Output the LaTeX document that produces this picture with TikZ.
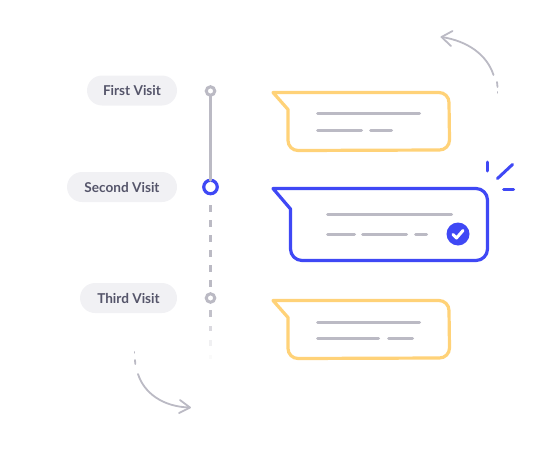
\documentclass[tikz,border=0pt]{standalone}
\usepackage{fontspec}
\setmainfont{Lato}[BoldFont={* Bold}]
\definecolor{gr}{HTML}{BBBAC4}
\definecolor{bl}{HTML}{3F48F5}
\definecolor{ye}{HTML}{FFD278}
\definecolor{pill}{HTML}{F1F1F4}
\definecolor{tx}{HTML}{55556A}
\tikzset{
  pillbox/.style={fill=pill,rounded corners=15pt,minimum height=30pt,inner sep=0pt,outer sep=0pt,text=tx,font=\fontsize{13.6}{15}\selectfont\bfseries,anchor=east},
  stroke/.style={draw=gr,line width=3pt,line cap=round},
  tick/.style={draw=gr,line width=3pt},
  bub/.style={line width=3.2pt,line join=round,fill=white},
  dot/.style={circle,draw=gr,line width=3pt,fill=white,inner sep=0pt,outer sep=0pt,minimum size=8.5pt},
  arc/.style={draw=gr,line width=1.8pt,line cap=round,line join=round}
}
\begin{document}
\begin{tikzpicture}[x=1pt,y=-1pt]
\useasboundingbox (0,0) rectangle (540,452);
\node[pillbox,minimum width=90pt] (p1) at (177,90.5) {\raisebox{-0.8pt}{First Visit}};
\node[pillbox,minimum width=110pt] (p2) at (177,187) {\raisebox{-0.8pt}{Second Visit}};
\node[pillbox,minimum width=97pt] (p3) at (177,298) {\raisebox{-0.8pt}{Third Visit}};
\node[dot] (d1) at (210.5,91) {};
\node[dot,draw=bl,line width=3.2pt,minimum size=13.5pt] (d2) at (210.5,187) {};
\node[dot] (d3) at (210.5,298) {};
\draw[stroke] (d1) -- (d2);
\foreach \a/\b/\o in {205/212/1,220/227/1,235/242/1,250/257/1,265/272/1,280/287/1,310/317/0.9,326/331/0.55,340/346/0.22,355/359/0.08}
  \draw[tick,opacity=\o] (210.5,\a) -- (210.5,\b);
% bubble 1
\draw[bub,draw=ye] (273,92.5) -- (439,92.5) arc[start angle=-90,end angle=0,radius=10] -- (449.5,140) arc[start angle=0,end angle=90,radius=10] -- (298,150.5) arc[start angle=90,end angle=180,radius=10] -- (288,109.5) -- cycle;
\draw[stroke] (317.5,113.5) -- (419.5,113.5);
\draw[stroke] (317.5,130) -- (361.5,130);
\draw[stroke] (370.5,130) -- (391.5,130);
% bubble 2
\draw[bub,draw=bl] (273,188.5) -- (476,188.5) arc[start angle=-90,end angle=0,radius=11.5] -- (487.5,249) arc[start angle=0,end angle=90,radius=11.5] -- (302,260.5) arc[start angle=90,end angle=180,radius=11.5] -- (290.5,209) -- cycle;
\draw[stroke] (327.5,214) -- (451.5,214);
\draw[stroke] (327.5,234) -- (354.5,234);
\draw[stroke] (362.5,234) -- (406.5,234);
\draw[stroke] (415.5,234) -- (426.5,234);
\node[circle,fill=bl,minimum size=23pt,inner sep=0pt,outer sep=0pt] (ck) at (458,234) {};
\draw[white,line width=3pt,line cap=round,line join=round] ([shift={(-5,0.5)}]ck.center) -- ([shift={(-1.5,4)}]ck.center) -- ([shift={(5,-3.5)}]ck.center);
\draw[bl,line width=3pt,line cap=round] (487.5,162) -- (487.5,171);
\draw[bl,line width=3pt,line cap=round] (497.5,178.5) -- (512.5,164.5);
\draw[bl,line width=3pt,line cap=round] (503.5,189) -- (513.5,189);
% bubble 3
\draw[bub,draw=ye] (273,300.5) -- (439,300.5) arc[start angle=-90,end angle=0,radius=10] -- (449.5,348) arc[start angle=0,end angle=90,radius=10] -- (298,358.5) arc[start angle=90,end angle=180,radius=10] -- (288,317.5) -- cycle;
\draw[stroke] (317.5,322) -- (419.5,322);
\draw[stroke] (317.5,338) -- (378.5,338);
\draw[stroke] (388.5,338) -- (412.5,338);
% top arrow
\coordinate (a1) at (493.5,75);
\coordinate (a2) at (441.5,37);
\draw[arc] (a1) .. controls (487,55) and (468,41) .. (a2);
\draw[arc] (452.5,31) -- (a2) -- (451,46);
\draw[arc] (497,82) -- (497.5,87);
\draw[arc] (497.5,92) -- (497.5,92.8);
% bottom arrow
\coordinate (b1) at (138,374);
\coordinate (b2) at (190,407.5);
\draw[arc] (b1) .. controls (144,393) and (163,407) .. (b2);
\draw[arc] (180,400) -- (b2) -- (179,413);
\draw[arc] (135,360) -- (135.3,364);
\draw[arc] (134.5,352) -- (134.5,352.8);
\end{tikzpicture}
\end{document}
